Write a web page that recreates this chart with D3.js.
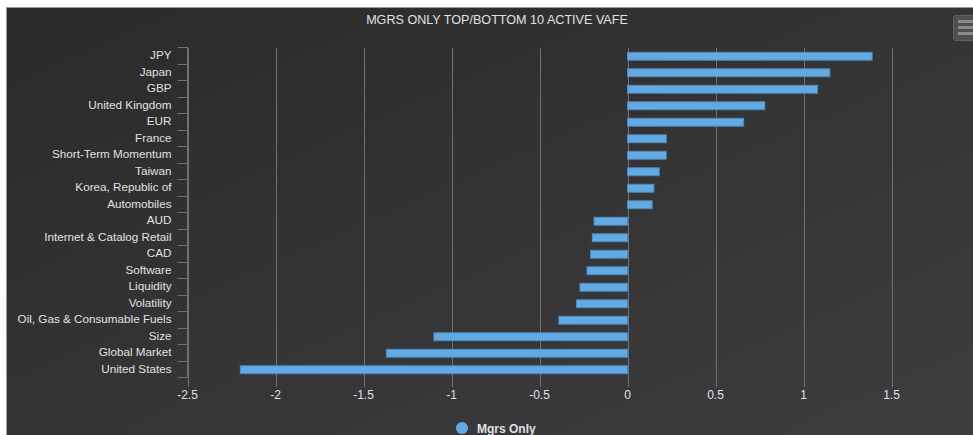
<!DOCTYPE html>
<html>
<head>
<meta charset="utf-8">
<script src="https://cdn.jsdelivr.net/npm/d3@7"></script>
<style>
  html, body { margin: 0; padding: 0; background: #ffffff; overflow: hidden; }
  svg { display: block; font-family: "Liberation Sans", Arial, sans-serif; }
</style>
</head>
<body>
<svg id="chart" width="973" height="435"></svg>
<script>
// Active exposure, managers only: top and bottom 10 positions
const chartTitle = "MGRS ONLY TOP/BOTTOM 10 ACTIVE VAFE";
const seriesName = "Mgrs Only";

const categories = [
  "JPY", "Japan", "GBP", "United Kingdom", "EUR", "France",
  "Short-Term Momentum", "Taiwan", "Korea, Republic of", "Automobiles",
  "AUD", "Internet & Catalog Retail", "CAD", "Software", "Liquidity",
  "Volatility", "Oil, Gas & Consumable Fuels", "Size", "Global Market",
  "United States"
];

const mgrsOnly = [
  1.39, 1.15, 1.08, 0.78, 0.66, 0.22,
  0.22, 0.18, 0.15, 0.14,
  -0.19, -0.20, -0.21, -0.23, -0.27,
  -0.29, -0.39, -1.10, -1.37,
  -2.20
];

const xTicks = [-2.5, -2, -1.5, -1, -0.5, 0, 0.5, 1, 1.5, 2];
const xDomain = [-2.5, 2];

// ---- layout ----
const chartBox = { x: 7, y: 8, w: 987, h: 440 };
const plot = { left: 187.5, right: 979.5, top: 47, bottom: 377 };

const svg = d3.select("#chart");
const defs = svg.append("defs");

const bg = defs.append("linearGradient")
  .attr("id", "bgGrad")
  .attr("x1", 0).attr("y1", 0).attr("x2", 1).attr("y2", 1);
bg.append("stop").attr("offset", "0%").attr("stop-color", "#2a2a2b");
bg.append("stop").attr("offset", "100%").attr("stop-color", "#3e3e40");

// chart background with thin outer edge
svg.append("rect")
  .attr("x", chartBox.x - 0.5).attr("y", chartBox.y - 0.5)
  .attr("width", chartBox.w).attr("height", chartBox.h)
  .attr("fill", "url(#bgGrad)")
  .attr("stroke", "#9a9a9a").attr("stroke-width", 1);

// scales
const x = d3.scaleLinear().domain(xDomain).range([plot.left, plot.right]);
const y = d3.scaleBand().domain(categories).range([plot.top, plot.bottom]).padding(0);

const gridColor = "#707073";
const labelColor = "#E0E0E3";

// vertical grid lines (extend 10px below the plot as tick marks)
svg.append("g").selectAll("line")
  .data(xTicks)
  .join("line")
  .attr("x1", d => Math.round(x(d)) + 0.5)
  .attr("x2", d => Math.round(x(d)) + 0.5)
  .attr("y1", plot.top + 1)
  .attr("y2", plot.bottom + 10)
  .attr("stroke", gridColor)
  .attr("stroke-width", 1);

// value axis labels (plain hyphen for negatives)
svg.append("g").selectAll("text")
  .data(xTicks)
  .join("text")
  .attr("x", d => x(d))
  .attr("y", plot.bottom + 22)
  .attr("text-anchor", "middle")
  .attr("fill", labelColor)
  .attr("font-size", "12px")
  .text(d => String(d));

// bars
const barH = y.bandwidth() * 0.48;
svg.append("g").selectAll("rect")
  .data(categories.map((c, i) => ({ c, v: mgrsOnly[i] })))
  .join("rect")
  .attr("x", d => Math.min(x(0), x(d.v)))
  .attr("width", d => Math.abs(x(d.v) - x(0)))
  .attr("y", d => y(d.c) + (y.bandwidth() - barH) / 2 + 1)
  .attr("height", barH)
  .attr("fill", "#63aae3")
  .attr("stroke", "#4b8bc2")
  .attr("stroke-width", 1);

// category axis line and ticks
const catAxis = svg.append("g");
catAxis.append("line")
  .attr("x1", plot.left).attr("x2", plot.left)
  .attr("y1", plot.top).attr("y2", plot.bottom)
  .attr("stroke", gridColor);
const boundaries = categories.map(c => y(c)).concat([plot.bottom]);
catAxis.selectAll("line.tick")
  .data(boundaries)
  .join("line")
  .attr("class", "tick")
  .attr("x1", plot.left - 10).attr("x2", plot.left)
  .attr("y1", d => Math.round(d) + 0.5).attr("y2", d => Math.round(d) + 0.5)
  .attr("stroke", gridColor);

// category labels
svg.append("g").selectAll("text")
  .data(categories)
  .join("text")
  .attr("x", plot.left - 16)
  .attr("y", d => y(d) + y.bandwidth() / 2 + 4)
  .attr("text-anchor", "end")
  .attr("fill", labelColor)
  .attr("font-size", "11.7px")
  .text(d => d);

// title
svg.append("text")
  .attr("x", 497)
  .attr("y", 24)
  .attr("text-anchor", "middle")
  .attr("fill", labelColor)
  .attr("font-size", "12.6px")
  .text(chartTitle);

// export menu button
const menu = svg.append("g");
menu.append("rect")
  .attr("x", 953.5).attr("y", 15.5)
  .attr("width", 24).attr("height", 25)
  .attr("rx", 2)
  .attr("fill", "#505053")
  .attr("stroke", "#606063");
[21.5, 27.5, 33.5].forEach(yy => {
  menu.append("line")
    .attr("x1", 958).attr("x2", 976)
    .attr("y1", yy).attr("y2", yy)
    .attr("stroke", "#8a8a8c").attr("stroke-width", 3);
});

// legend
const legend = svg.append("g");
legend.append("circle")
  .attr("cx", 462).attr("cy", 428).attr("r", 6)
  .attr("fill", "#63aae3");
legend.append("text")
  .attr("x", 477).attr("y", 432.5)
  .attr("fill", labelColor)
  .attr("font-size", "12px")
  .attr("font-weight", "bold")
  .text(seriesName);
</script>
</body>
</html>
